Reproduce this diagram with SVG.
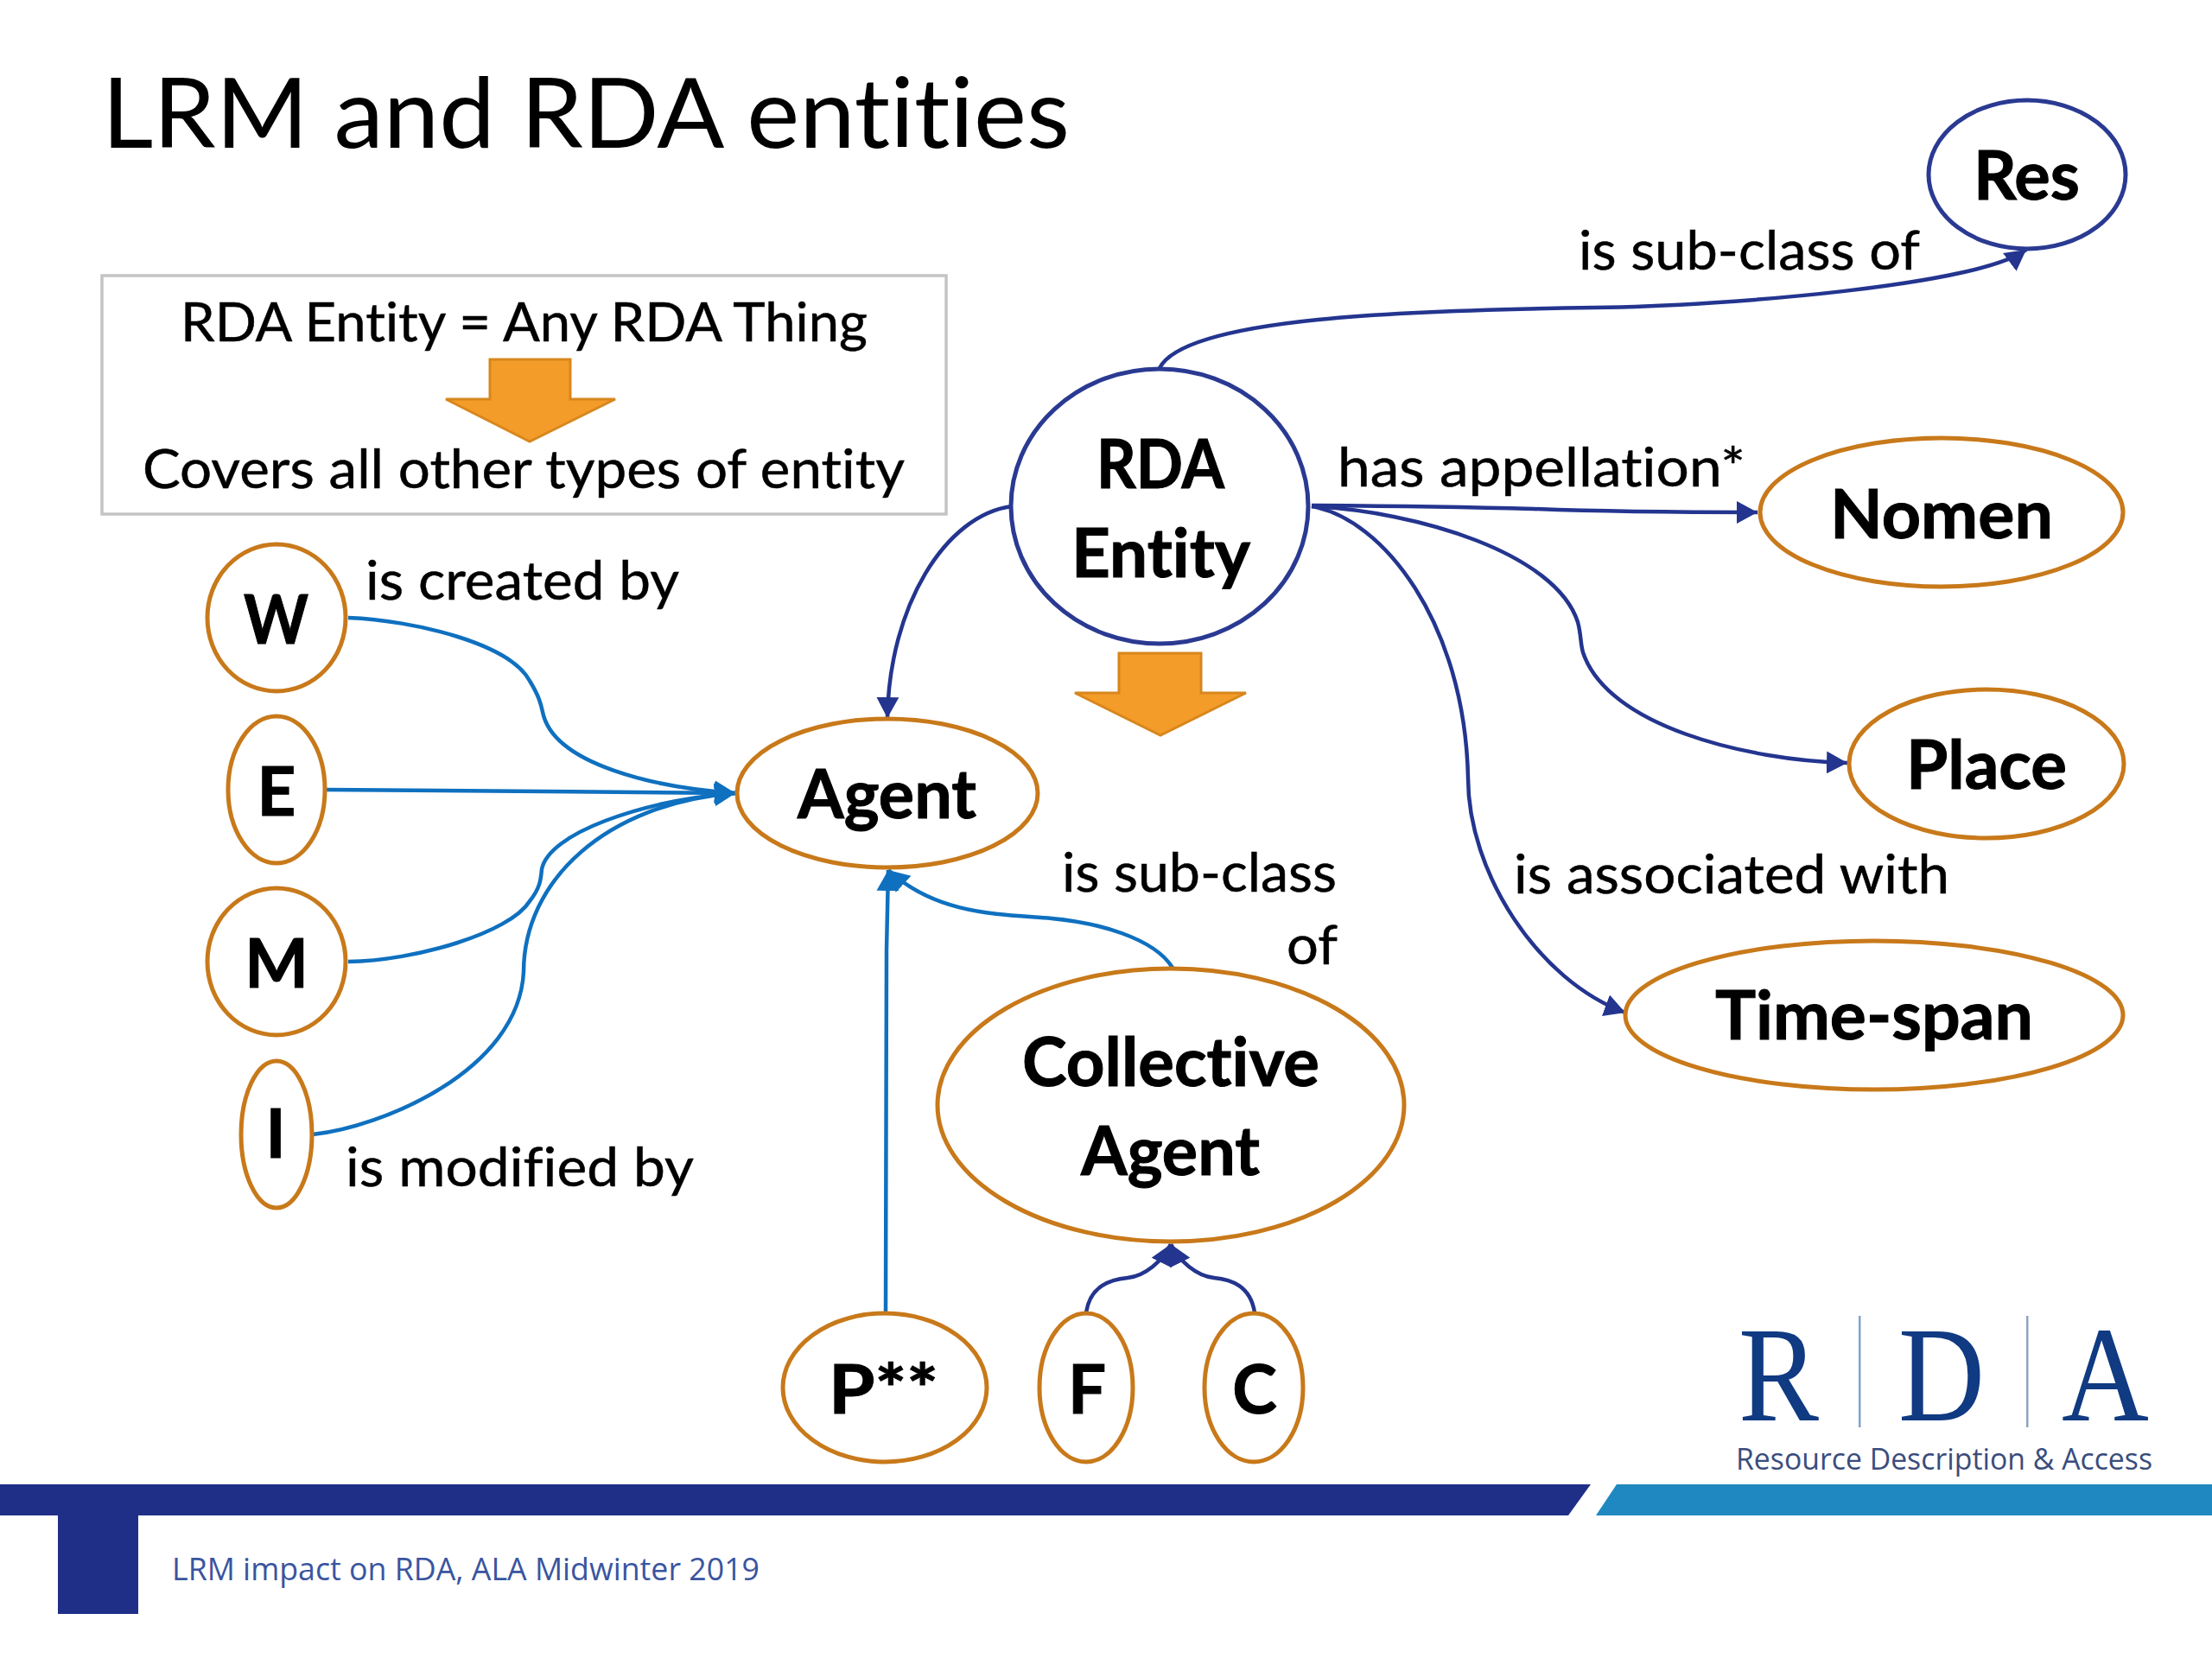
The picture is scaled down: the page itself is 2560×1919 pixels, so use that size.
<svg xmlns="http://www.w3.org/2000/svg" width="2560" height="1919" viewBox="0 0 2560 1919">
<style>
text{font-family:"Lato","Liberation Sans",sans-serif;fill:#000;font-variant-ligatures:none}
.t{font-size:62px;stroke:#000;stroke-width:.5}
.b{font-size:78px;font-weight:700;stroke:#000;stroke-width:1}
.m{text-anchor:middle}
.n{fill:#fff;stroke-width:5}
.o{stroke:#c8791a}
.v{stroke:#2a3a92}
.dk{fill:none;stroke:#24358f;stroke-width:4.5}
.lt{fill:none;stroke:#0f70bf;stroke-width:4.5}
.ar{fill:#f39c2a;stroke:#d8861c;stroke-width:3}
.logo{font-family:"Liberation Serif",serif;font-size:157px;fill:#103a82}
</style>
<defs>
<marker id="hd" markerUnits="userSpaceOnUse" markerWidth="26" markerHeight="28" refX="24" refY="14" orient="auto"><path d="M0,1 L24,14 L0,27 Z" fill="#24358f"/></marker>
<marker id="hl" markerUnits="userSpaceOnUse" markerWidth="26" markerHeight="28" refX="24" refY="14" orient="auto"><path d="M0,1 L24,14 L0,27 Z" fill="#0f70bf"/></marker>
</defs>
<rect width="2560" height="1919" fill="#fff"/>
<text x="118" y="171" font-size="112" textLength="1120" lengthAdjust="spacingAndGlyphs">LRM and RDA entities</text>
<g id="note">
<rect x="118" y="319" width="977" height="276" fill="#fff" stroke="#c4c4c4" stroke-width="3.5"/>
<text class="t" x="209" y="395" textLength="795" lengthAdjust="spacingAndGlyphs">RDA Entity = Any RDA Thing</text>
<path class="ar" d="M567,416H660V462H712L613,511L516,462H567Z"/>
<text class="t" x="165" y="565" textLength="882" lengthAdjust="spacingAndGlyphs">Covers all other types of entity</text>
</g>
<g id="connectors">
<path class="dk" marker-end="url(#hd)" d="M1342,426 C1372,367 1633,359 1845,356 C2000,354 2290,330 2345,289"/>
<path class="dk" marker-end="url(#hd)" d="M1518,585 C1650,586 1700,587 1775,589 C1850,592 1950,593 2034,593"/>
<path class="dk" marker-end="url(#hd)" d="M1518,586 C1640,592 1800,640 1826,720 C1830,735 1829,745 1832,755 C1860,840 2020,880 2138,883"/>
<path class="dk" marker-end="url(#hd)" d="M1518,586 C1600,600 1695,720 1699,900 C1699,1010 1780,1135 1881,1172"/>
<path class="dk" marker-end="url(#hd)" d="M1171,586 C1094,596 1029,702 1027,831"/>
<path class="dk" marker-end="url(#hd)" d="M1257,1519 C1262,1488 1285,1481 1305,1479 C1325,1477 1345,1460 1355,1440"/>
<path class="dk" marker-end="url(#hd)" d="M1452,1519 C1447,1488 1425,1481 1405,1479 C1385,1477 1365,1460 1355,1440"/>
<path class="lt" marker-end="url(#hl)" d="M403,715 C480,718 590,745 613,788 C624,806 626,815 628,824 C640,885 760,912 851,918"/>
<path class="lt" marker-end="url(#hl)" d="M377,914 C500,914 700,917 851,918"/>
<path class="lt" marker-end="url(#hl)" d="M403,1113 C480,1112 590,1080 613,1043 C625,1028 626,1018 627,1006 C635,965 740,927 851,918"/>
<path class="lt" marker-end="url(#hl)" d="M362,1313 C440,1305 600,1240 606,1125 C606,1020 700,930 851,918"/>
<path class="lt" marker-end="url(#hl)" d="M1025,1521 L1026,1100 L1028,1007"/>
<path class="lt" marker-end="url(#hl)" d="M1357,1120 C1335,1085 1270,1068 1217,1063 C1160,1058 1085,1060 1028,1007"/>
</g>
<g id="labels">
<text class="t" x="1827" y="312" textLength="395" lengthAdjust="spacingAndGlyphs">is sub-class of</text>
<text class="t" x="1548" y="563" textLength="472" lengthAdjust="spacingAndGlyphs">has appellation*</text>
<text class="t" x="1752" y="1034" textLength="504" lengthAdjust="spacingAndGlyphs">is associated with</text>
<text class="t" x="1229" y="1032" textLength="318" lengthAdjust="spacingAndGlyphs">is sub-class</text>
<text class="t" x="1489" y="1116" textLength="59" lengthAdjust="spacingAndGlyphs">of</text>
<text class="t" x="423" y="694" textLength="363" lengthAdjust="spacingAndGlyphs">is created by</text>
<text class="t" x="400" y="1373" textLength="403" lengthAdjust="spacingAndGlyphs">is modified by</text>
</g>
<g id="res"><ellipse class="n v" cx="2346" cy="202" rx="114" ry="86"/><text class="b" x="2284" y="231" textLength="123" lengthAdjust="spacingAndGlyphs">Res</text></g>
<g id="nomen"><ellipse class="n o" cx="2247" cy="593" rx="210" ry="86"/><text class="b" x="2118" y="623" textLength="258" lengthAdjust="spacingAndGlyphs">Nomen</text></g>
<g id="place"><ellipse class="n o" cx="2299" cy="884" rx="159" ry="86"/><text class="b" x="2206" y="913" textLength="186" lengthAdjust="spacingAndGlyphs">Place</text></g>
<g id="time-span"><ellipse class="n o" cx="2169" cy="1175" rx="288" ry="86"/><text class="b" x="1985" y="1203" textLength="368" lengthAdjust="spacingAndGlyphs">Time-span</text></g>
<g id="rda-entity"><ellipse class="n v" cx="1342" cy="586" rx="172" ry="159"/><text class="b" x="1269" y="565" textLength="148" lengthAdjust="spacingAndGlyphs">RDA</text><text class="b" x="1240" y="668" textLength="207" lengthAdjust="spacingAndGlyphs">Entity</text></g>
<g id="agent"><ellipse class="n o" cx="1027" cy="918" rx="174" ry="86"/><text class="b" x="923" y="947" textLength="207" lengthAdjust="spacingAndGlyphs">Agent</text></g>
<g id="collective-agent"><ellipse class="n o" cx="1355" cy="1279" rx="270" ry="158"/><text class="b" x="1183" y="1257" textLength="344" lengthAdjust="spacingAndGlyphs">Collective</text><text class="b" x="1251" y="1360" textLength="207" lengthAdjust="spacingAndGlyphs">Agent</text></g>
<g id="w"><ellipse class="n o" cx="320" cy="715" rx="80" ry="85"/><text class="b" x="282" y="745" textLength="75" lengthAdjust="spacingAndGlyphs">W</text></g>
<g id="e"><ellipse class="n o" cx="320" cy="914" rx="56" ry="85"/><text class="b m" x="320" y="944">E</text></g>
<g id="m"><ellipse class="n o" cx="320" cy="1113" rx="80" ry="85"/><text class="b m" x="320" y="1143">M</text></g>
<g id="i"><ellipse class="n o" cx="320" cy="1313" rx="41" ry="85"/><text class="b m" x="319" y="1340">I</text></g>
<g id="p"><ellipse class="n o" cx="1024" cy="1606" rx="118" ry="86"/><text class="b" x="959" y="1636" textLength="127" lengthAdjust="spacingAndGlyphs">P**</text></g>
<g id="f"><ellipse class="n o" cx="1257" cy="1606" rx="54" ry="86"/><text class="b m" x="1258" y="1636">F</text></g>
<g id="c"><ellipse class="n o" cx="1451" cy="1606" rx="57" ry="86"/><text class="b m" x="1452" y="1636">C</text></g>
<path class="ar" d="M1295,756H1390V802H1442L1343,851L1244,802H1295Z"/>
<g id="logo">
<text class="logo" x="2012" y="1644" textLength="93" lengthAdjust="spacingAndGlyphs">R</text>
<text class="logo" x="2197" y="1644" textLength="100" lengthAdjust="spacingAndGlyphs">D</text>
<text class="logo" x="2386" y="1644" textLength="101" lengthAdjust="spacingAndGlyphs">A</text>
<rect x="2151" y="1523" width="2.5" height="129" fill="#7fa3cf"/>
<rect x="2345" y="1523" width="2.5" height="129" fill="#8fa3bf"/>
<text x="2009" y="1701" font-size="34" style="font-family:'Open Sans',sans-serif;fill:#3a4d7c" textLength="482" lengthAdjust="spacingAndGlyphs">Resource Description &amp; Access</text>
</g>
<g id="footer">
<path d="M0,1718H1841L1815,1754H0Z" fill="#1f2f87"/>
<path d="M1871,1718H2560V1754H1847Z" fill="#1f88c0"/>
<rect x="67" y="1754" width="93" height="114" fill="#1f2f87"/>
<text x="199" y="1829" font-size="37" style="font-family:'Open Sans',sans-serif;fill:#3a559f" textLength="680" lengthAdjust="spacingAndGlyphs">LRM impact on RDA, ALA Midwinter 2019</text>
</g>
</svg>
